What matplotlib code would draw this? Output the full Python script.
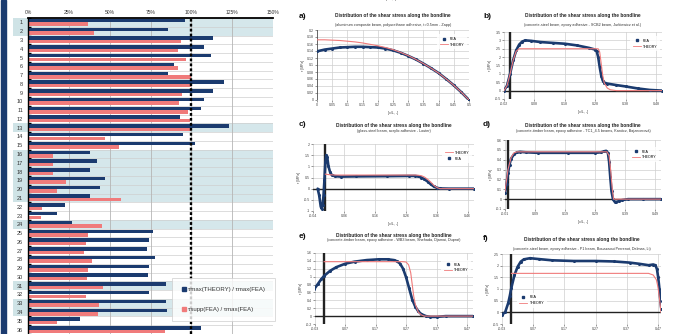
import matplotlib
matplotlib.use("Agg")
import matplotlib.pyplot as plt
from matplotlib.lines import Line2D
from matplotlib.patches import Rectangle
import numpy as np

plt.rcParams['font.family'] = ['Liberation Sans', 'DejaVu Sans']

# ---------------- data: left bar panel ----------------
rows = list(range(1, 37))
ratio_theory_fea = [96, 85.7, 113, 108, 112, 89.6, 86, 120, 113, 108, 106, 93,
                    123, 95, 102, 38, 42, 38, 47, 44, 38, 22.7, 17.6, 27,
                    76.7, 74, 73, 78, 74, 73.7, 84.5, 74, 84.5, 85, 32, 106]
ratio_supp_fea = [36.5, 40.6, 93.5, 91.8, 97, 92, 99.6, 100, 94, 92.6, 98, 99,
                  100, 47, 56, 15.5, 15, 15.5, 23, 18, 57, 8.8, 7.8, 45,
                  37, 35.5, 34.5, 39, 37, 36, 45.7, 35.5, 43.5, 42.7, 17.5, 84]
shaded_rows = [1, 2, 13, 16, 17, 18, 19, 20, 21, 24, 31, 33, 34]
x_ticks_pct = [0, 25, 50, 75, 100, 125, 150]
x_tick_labels = ["0%", "25%", "50%", "75%", "100%", "125%", "150%"]
legend_labels = ["τmax(THEORY) / τmax(FEA)", "τsupp(FEA) / τmax(FEA)"]

# ---------------- data: right panels ----------------
a_x = [0, .025, .05, .075, .1, .125, .15, .175, .2, .225, .25, .275, .3, .325, .35, .375, .4, .425, .45, .475, .5]
a_fea = [.139, .144, .147, .150, .151, .152, .152, .151, .150, .147, .142, .135, .126, .116, .104, .091, .077, .060, .042, .022, 0]
a_theory = [.172, .172, .171, .170, .168, .166, .163, .159, .155, .150, .144, .136, .127, .116, .104, .091, .077, .060, .042, .022, 0]

b_fea_x = [-0.02, -0.01, 0, 0.01, 0.02, 0.03, 0.04, 0.05, 0.07, 0.1, 0.14, 0.18, 0.22, 0.26, 0.28, 0.285,
           0.29, 0.295, 0.30, 0.305, 0.31, 0.32, 0.35, 0.38, 0.42, 0.46, 0.50]
b_fea_y = [0, 0.3, 1.0, 1.8, 2.4, 2.75, 2.93, 3.0, 2.97, 2.9, 2.85, 2.8, 2.7, 2.55, 2.45, 2.35,
           2.0, 1.4, 0.9, 0.6, 0.48, 0.42, 0.33, 0.25, 0.13, 0.04, 0.0]
b_th_x = [-0.02, -0.01, 0, 0.01, 0.02, 0.03, 0.29, 0.295, 0.30, 0.305, 0.31, 0.32, 0.33, 0.35, 0.50]
b_th_y = [0, 0.3, 1.0, 1.8, 2.35, 2.5, 2.5, 2.3, 1.6, 0.9, 0.45, 0.15, 0.05, 0, 0]

c_fea_x = [-0.025, -0.02, -0.015, -0.012, -0.009, -0.006, -0.003, 0, 0.003, 0.006, 0.01, 0.015, 0.02,
           0.03, 0.05, 0.1, 0.2, 0.27, 0.29, 0.30, 0.31, 0.32, 0.33, 0.34, 0.35, 0.36, 0.37, 0.40, 0.48]
c_fea_y = [0, -0.3, -0.8, -0.9, -0.75, -0.3, 0.4, 1.2, 1.5, 1.4, 1.0, 0.75, 0.62,
           0.56, 0.54, 0.55, 0.56, 0.57, 0.57, 0.55, 0.5, 0.42, 0.32, 0.2, 0.1, 0.04, 0.01, 0, 0]
c_th_x = [0, 0.01, 0.03, 0.29, 0.30, 0.31, 0.32, 0.33, 0.34, 0.35, 0.36, 0.37, 0.48]
c_th_y = [0.65, 0.63, 0.61, 0.61, 0.6, 0.58, 0.52, 0.42, 0.3, 0.15, 0.05, 0.0, 0.0]

d_fea_x = [-0.01, -0.005, 0, 0.005, 0.01, 0.02, 0.03, 0.04, 0.06, 0.1, 0.2, 0.29, 0.31, 0.32, 0.327,
           0.333, 0.337, 0.341, 0.345, 0.35, 0.355, 0.36, 0.37, 0.38, 0.4, 0.45, 0.51]
d_fea_y = [0.06, 0.15, 0.27, 0.35, 0.41, 0.455, 0.475, 0.48, 0.475, 0.47, 0.47, 0.47, 0.475, 0.485, 0.49,
           0.47, 0.38, 0.22, 0.08, 0.0, -0.025, -0.03, -0.02, -0.01, 0, 0, 0]
d_th_x = [-0.01, 0, 0.01, 0.02, 0.03, 0.33, 0.337, 0.342, 0.347, 0.352, 0.51]
d_th_y = [0.08, 0.3, 0.42, 0.47, 0.48, 0.48, 0.44, 0.3, 0.12, 0.0, 0.0]

e_fea_x = [-0.033, -0.02, -0.01, 0, 0.02, 0.04, 0.07, 0.1, 0.14, 0.18, 0.21, 0.23, 0.24, 0.25, 0.26,
           0.27, 0.28, 0.29, 0.30, 0.31, 0.32, 0.335, 0.35, 0.37, 0.4, 0.49]
e_fea_y = [0.68, 0.82, 0.93, 1.02, 1.15, 1.24, 1.33, 1.38, 1.42, 1.44, 1.44, 1.42, 1.39, 1.33, 1.2,
           0.98, 0.7, 0.42, 0.24, 0.12, 0.05, 0.0, -0.02, -0.02, 0, 0]
e_th_x = [0, 0.26, 0.27, 0.278, 0.285, 0.29, 0.295, 0.30, 0.31, 0.32, 0.33, 0.49]
e_th_y = [1.38, 1.38, 1.37, 1.3, 1.1, 0.8, 0.5, 0.3, 0.1, 0.03, 0, 0]

f_fea_x = [-0.03, -0.02, -0.01, -0.005, 0, 0.01, 0.02, 0.03, 0.04, 0.06, 0.09, 0.13, 0.2, 0.27, 0.33,
           0.38, 0.41, 0.44, 0.455, 0.462, 0.467, 0.471, 0.475, 0.478, 0.481]
f_fea_y = [-0.1, 0.0, 0.4, 0.7, 1.05, 1.6, 1.95, 2.17, 2.27, 2.32, 2.28, 2.23, 2.2, 2.2, 2.18,
           2.13, 2.08, 2.02, 2.05, 2.02, 1.85, 1.5, 1.0, 0.5, 0.15]
f_th_x = [0, 0.44, 0.455, 0.465, 0.47, 0.475, 0.48]
f_th_y = [1.67, 1.67, 1.6, 1.4, 1.1, 0.6, 0.0]

title_text = "Distribution of the shear stress along the bondline"
subtitles = {
    'a': "(aluminum composite beam, polyurethane adhesive, t=0.5mm - Zapp)",
    'b': "(concrete-steel beam, epoxy adhesive - SCB2 beam, Jurkiewicz et al.)",
    'c': "(glass-steel beam, acrylic adhesive - Louter)",
    'd': "(concrete-timber beam, epoxy adhesive - TC1_4.5 beams, Kanócz, Bajzecerová)",
    'e': "(concrete-timber beam, epoxy adhesive - WB3 beam, Shehada, Djamai, Duprat)",
    'f': "(concrete-steel beam, epoxy adhesive - P1 beam, Bouazaoui Perrenot, Delmas, Li)",
}

# ---------------- styling ----------------
W, H = 675, 334
NAVY = '#1b3b6f'
SALMON = '#f07b7b'
SHADE = '#d5e7eb'
LABSHADE = '#cfe3e6'
GRID = '#cfcfcf'

fig = plt.figure(figsize=(W / 100, H / 100), dpi=100)
fig.patch.set_facecolor('white')


def rect(l, t, r, b):
    return [l / W, 1 - b / H, (r - l) / W, (b - t) / H]


# left blue stripe
fig.patches.append(Rectangle((1 / W, 0), 5 / W, 1, transform=fig.transFigure,
                             color=NAVY, zorder=0))

# ---------------- left bar chart ----------------
ax = fig.add_axes(rect(28, 18, 273, 334))
ax.set_xlim(0, 150)
ax.set_ylim(36.5, 0.5)
for r in shaded_rows:
    ax.axhspan(r - 0.5, r + 0.5, color=SHADE, zorder=0, lw=0)
    ax.add_patch(Rectangle((-15 / 245, r - 0.5), 15 / 245, 1, transform=ax.get_yaxis_transform(),
                           clip_on=False, color=LABSHADE, zorder=0.2, lw=0))
for b in np.arange(0.5, 37, 1):
    ax.axhline(b, color=GRID, lw=0.5, zorder=0.6)
for xv in x_ticks_pct:
    ax.axvline(xv, color='#b5b5b5', lw=0.6, zorder=0.6)
rr = np.array(rows)
ax.barh(rr - 0.2, ratio_theory_fea, height=0.39, color=NAVY, zorder=2)
ax.barh(rr + 0.2, ratio_supp_fea, height=0.39, color=SALMON, zorder=2)
ax.axvline(100, color='black', lw=1.7, ls=(0, (1.2, 0.9)), zorder=5)

ax.xaxis.tick_top()
ax.set_xticks(x_ticks_pct)
ax.set_xticklabels(x_tick_labels)
ax.tick_params(axis='x', length=0, labelsize=3.6, pad=1.8, colors='#333333')
ax.set_yticks(rows)
ax.set_yticklabels([str(r) for r in rows])
ax.tick_params(axis='y', length=0, labelsize=4, pad=3.5, colors='#333333')
ax.set_yticks(np.arange(0.5, 37, 1), minor=True)
ax.tick_params(axis='y', which='minor', direction='in', length=2.2, width=1, color='black')
for s in ['right', 'bottom']:
    ax.spines[s].set_visible(False)
ax.spines['top'].set_linewidth(1.3)
ax.spines['left'].set_linewidth(1.0)

handles = [Line2D([], [], marker='s', ls='none', color=NAVY, markersize=2.2),
           Line2D([], [], marker='s', ls='none', color=SALMON, markersize=2.2)]
leg = ax.legend(handles, legend_labels, loc='lower left', bbox_to_anchor=(0.588, 0.04),
                fontsize=4.3, frameon=True, fancybox=False, labelspacing=2.4, borderpad=1.6,
                handletextpad=0.3, handlelength=0.8, borderaxespad=0)
leg.get_frame().set_edgecolor('#cccccc')
leg.get_frame().set_linewidth(0.6)
leg.set_zorder(10)
for t in leg.get_texts():
    t.set_color('#333333')


# ---------------- right panels ----------------
def fmt(v):
    s = f"{v:.2f}".rstrip('0').rstrip('.')
    if s == '-0':
        s = '0'
    return s


def panel(letter, box, xlim, xticks, ylim, ystep, fea, th, th_first, leg_kw, title_y, sub_y,
          letter_xy, thick=True):
    ax = fig.add_axes(rect(*box))
    ax.set_xlim(*xlim)
    ax.set_ylim(*ylim)
    yt = np.round(np.arange(ylim[0], ylim[1] + ystep / 2, ystep), 4)
    ax.set_yticks(yt)
    ax.set_yticklabels([fmt(v) for v in yt])
    ax.set_xticks(xticks)
    ax.set_xticklabels([fmt(v) for v in xticks])
    for gx in xticks:
        ax.axvline(gx, color=GRID, lw=0.5, zorder=0)
    for gy in yt:
        ax.axhline(gy, color=GRID, lw=0.5, zorder=0)
    for s in ax.spines.values():
        s.set_visible(False)
    if thick:
        ax.axvline(0, color='#222222', lw=1.7, zorder=1)
        ax.axhline(0, color='#222222', lw=1.0, zorder=1)
    else:
        ax.axvline(0, color='#666666', lw=0.7, zorder=1)
        ax.axhline(0, color='#666666', lw=0.7, zorder=1)
    ax.tick_params(labelsize=2.6, length=1.2, width=0.4, pad=1.2, colors='#444444')
    ax.plot(fea[0], fea[1], color=NAVY, lw=1.9, marker='o', markersize=1.2,
            solid_capstyle='round', zorder=3)
    ax.plot(th[0], th[1], color=SALMON, lw=0.8, zorder=4)
    ax.set_ylabel("τ [MPa]", fontsize=2.4, labelpad=1.5, color='#444444')
    ax.set_xlabel("[x/L, -]", fontsize=2.6, labelpad=2.5, color='#444444')
    h_fea = Line2D([], [], marker='s', ls='none', color=NAVY, markersize=1.6)
    h_th = Line2D([], [], color=SALMON, lw=0.6)
    if th_first:
        hs, ls = [h_th, h_fea], ["THEORY", "FEA"]
    else:
        hs, ls = [h_fea, h_th], ["FEA", "THEORY"]
    lg = ax.legend(hs, ls, fontsize=2.6, frameon=True, fancybox=False, handlelength=2.2,
                   handletextpad=0.6, labelspacing=0.5, borderpad=0.8, **leg_kw)
    lg.get_frame().set_edgecolor('none')
    lg.set_zorder(6)
    cx = (box[0] + box[2]) / 2
    fig.text(cx / W, 1 - title_y / H, title_text, ha='center', va='center', fontsize=3.4,
             fontweight='bold', color='#222222')
    fig.text(cx / W, 1 - sub_y / H, subtitles[letter], ha='center', va='center', fontsize=2.7,
             color='#333333')
    fig.text(letter_xy[0] / W, 1 - letter_xy[1] / H, letter + ")", ha='left', va='center',
             fontsize=6, fontweight='bold', color='#111111')
    return ax


panel('a', (317, 30, 469, 100), (0, 0.5), [0, .05, .1, .15, .2, .25, .3, .35, .4, .45, .5],
      (0, 0.2), 0.02, (a_x, a_fea), (a_x, a_theory), False,
      dict(loc='upper right', bbox_to_anchor=(1.0, 0.97)), 16, 25, (299, 16), thick=False)
panel('b', (504, 32, 662, 99), (-0.02, 0.5), [-0.02, 0.08, 0.18, 0.28, 0.38, 0.48],
      (-0.5, 3.5), 0.5, (b_fea_x, b_fea_y), (b_th_x, b_th_y), False,
      dict(loc='upper right', bbox_to_anchor=(1.0, 0.97)), 16, 25, (483, 16))
panel('c', (313, 144, 474, 211), (-0.04, 0.48), [-0.04, 0.06, 0.16, 0.26, 0.36, 0.46],
      (-1, 2), 0.5, (c_fea_x, c_fea_y), (c_th_x, c_th_y), True,
      dict(loc='upper right', bbox_to_anchor=(1.0, 0.97)), 125, 131, (299, 125))
panel('d', (505, 140, 661, 209), (-0.01, 0.51), [-0.01, 0.09, 0.19, 0.29, 0.39, 0.49],
      (-0.1, 0.6), 0.1, (d_fea_x, d_fea_y), (d_th_x, d_th_y), False,
      dict(loc='upper right', bbox_to_anchor=(1.0, 0.93)), 125, 131, (483, 125))
panel('e', (315, 253, 473, 324), (-0.03, 0.49), [-0.03, 0.07, 0.17, 0.27, 0.37, 0.47],
      (-0.2, 1.6), 0.2, (e_fea_x, e_fea_y), (e_th_x, e_th_y), False,
      dict(loc='upper right', bbox_to_anchor=(1.0, 0.93)), 235, 240, (299, 236))
panel('f', (502, 254, 661, 324), (-0.03, 0.48), [-0.03, 0.07, 0.17, 0.27, 0.37, 0.47],
      (-0.5, 2.5), 0.5, (f_fea_x, f_fea_y), (f_th_x, f_th_y), False,
      dict(loc='lower left', bbox_to_anchor=(0.08, 0.2)), 240, 249, (483, 238))

# cut-off x label of the panel above (top edge), as in the reference
fig.text(391 / W, 1 + 1 / H, "[x/L, -]", ha='center', va='center', fontsize=2.6, color='#444444')

fig.savefig("out.png", dpi=100)
